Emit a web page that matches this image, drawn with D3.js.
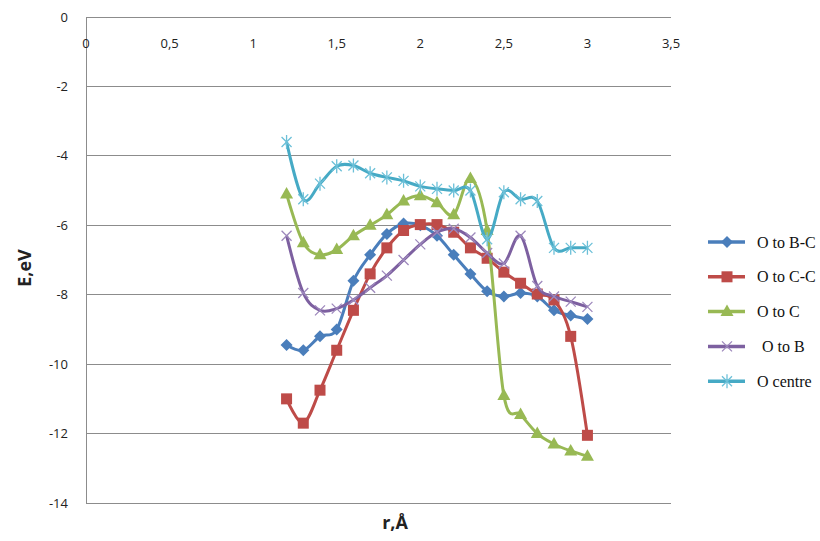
<!DOCTYPE html>
<html>
<head>
<meta charset="utf-8">
<script src="https://cdn.jsdelivr.net/npm/d3@7"></script>
<style>
  body { margin: 0; background: #fff; }
  svg { display: block; }
</style>
</head>
<body>
<div id="chart"></div>
<script>
// distances r (Å) shared by every series
var rValues = [1.2, 1.3, 1.4, 1.5, 1.6, 1.7, 1.8, 1.9, 2.0, 2.1, 2.2, 2.3, 2.4, 2.5, 2.6, 2.7, 2.8, 2.9, 3.0];

// energies E (eV)
var oToBC   = [-9.45, -9.6, -9.2, -9.0, -7.6, -6.85, -6.25, -5.95, -6.0, -6.3, -6.85, -7.4, -7.9, -8.05, -7.95, -8.05, -8.45, -8.6, -8.7];
var oToCC   = [-11.0, -11.7, -10.75, -9.6, -8.45, -7.4, -6.65, -6.15, -5.98, -5.98, -6.2, -6.65, -6.95, -7.35, -7.67, -7.98, -8.15, -9.2, -12.05];
var oToC    = [-5.1, -6.5, -6.85, -6.7, -6.3, -6.0, -5.7, -5.3, -5.15, -5.35, -5.7, -4.65, -6.15, -10.9, -11.45, -12.0, -12.3, -12.5, -12.65];
var oToB    = [-6.3, -7.95, -8.45, -8.4, -8.15, -7.8, -7.45, -7.0, -6.55, -6.2, -6.1, -6.35, -6.8, -7.1, -6.3, -7.75, -8.05, -8.2, -8.35];
var oCentre = [-3.6, -5.25, -4.8, -4.3, -4.28, -4.5, -4.62, -4.72, -4.88, -4.95, -5.0, -5.0, -6.4, -5.05, -5.25, -5.3, -6.65, -6.65, -6.65];

var seriesNames = ["O to B-C", "O to C-C", "O to C", "O to B", "O centre"];
var xTicks = [0, 0.5, 1, 1.5, 2, 2.5, 3, 3.5];
var yTicks = [0, -2, -4, -6, -8, -10, -12, -14];

var series = [
  { name: seriesNames[0], values: oToBC,   color: "#4a7ebb", marker: "diamond" },
  { name: seriesNames[1], values: oToCC,   color: "#be4b48", marker: "square" },
  { name: seriesNames[2], values: oToC,    color: "#98b954", marker: "triangle" },
  { name: seriesNames[3], values: oToB,    color: "#7d60a0", marker: "cross", markColor: "#9d88bc" },
  { name: seriesNames[4], values: oCentre, color: "#46aac5", marker: "star", markColor: "#6cc0d8" }
];

var W = 820, H = 541;
var margin = { top: 17, right: 149, bottom: 38, left: 86 },
    width = W - margin.left - margin.right,
    height = H - margin.top - margin.bottom;

var svg = d3.select("#chart").append("svg")
    .attr("width", W)
    .attr("height", H);

var g = svg.append("g")
    .attr("transform", "translate(" + margin.left + "," + margin.top + ")");

var x = d3.scaleLinear().domain([0, 3.5]).range([0, width]);
var y = d3.scaleLinear().domain([-14, 0]).range([height, 0]);

var fmt = function (d) { return String(d).replace(".", ","); };

// horizontal grid lines
g.selectAll(".grid")
    .data(yTicks)
    .enter().append("line")
    .attr("x1", 0).attr("x2", width)
    .attr("y1", function (d) { return y(d); })
    .attr("y2", function (d) { return y(d); })
    .attr("stroke", "#8c8c8c")
    .attr("stroke-width", 1)
    .attr("shape-rendering", "crispEdges");

// vertical axis line
g.append("line")
    .attr("x1", 0).attr("x2", 0)
    .attr("y1", 0).attr("y2", height)
    .attr("stroke", "#8c8c8c")
    .attr("shape-rendering", "crispEdges");

// y tick labels
g.selectAll(".ylab")
    .data(yTicks)
    .enter().append("text")
    .attr("x", -18)
    .attr("y", function (d) { return y(d); })
    .attr("dy", "0.35em")
    .attr("text-anchor", "end")
    .style("font-family", "'Open Sans', sans-serif")
    .style("font-size", "13px")
    .style("fill", "#222")
    .text(function (d) { return d; });

// x tick labels (under the 0 line)
g.selectAll(".xlab")
    .data(xTicks)
    .enter().append("text")
    .attr("x", function (d) { return x(d); })
    .attr("y", y(0) + 31)
    .attr("text-anchor", "middle")
    .style("font-family", "'Open Sans', sans-serif")
    .style("font-size", "13px")
    .style("fill", "#222")
    .text(fmt);

// axis titles
svg.append("text")
    .attr("transform", "translate(31," + 268 + ") rotate(-90)")
    .attr("text-anchor", "middle")
    .style("font-family", "'Open Sans', sans-serif")
    .style("font-size", "18px")
    .style("font-weight", "bold")
    .style("fill", "#222")
    .text("E,eV");

svg.append("text")
    .attr("x", 395)
    .attr("y", 529)
    .attr("text-anchor", "middle")
    .style("font-family", "'Open Sans', sans-serif")
    .style("font-size", "18px")
    .style("font-weight", "bold")
    .style("fill", "#222")
    .text("r,Å");

// marker drawing
function drawMarker(sel, s) {
  var mc = s.markColor || s.color;
  if (s.marker === "diamond") {
    sel.append("path").attr("d", "M0,-6L6,0L0,6L-6,0Z").attr("fill", s.color);
  } else if (s.marker === "square") {
    sel.append("rect").attr("x", -5.5).attr("y", -5.5).attr("width", 11).attr("height", 11).attr("fill", s.color);
  } else if (s.marker === "triangle") {
    sel.append("path").attr("d", "M0,-7L6.5,4.5L-6.5,4.5Z").attr("fill", s.color);
  } else if (s.marker === "cross") {
    sel.append("path").attr("d", "M-5,-5L5,5M-5,5L5,-5")
        .attr("stroke", mc).attr("stroke-width", 1.3).attr("fill", "none");
  } else if (s.marker === "star") {
    sel.append("path").attr("d", "M-5,-5L5,5M-5,5L5,-5M0,-7L0,7")
        .attr("stroke", mc).attr("stroke-width", 1.3).attr("fill", "none");
  }
}

var line = d3.line()
    .x(function (d) { return x(d.r); })
    .y(function (d) { return y(d.e); })
    .curve(d3.curveCatmullRom.alpha(0));

series.forEach(function (s) {
  var pts = rValues.map(function (r, i) { return { r: r, e: s.values[i] }; });
  var sg = g.append("g");
  sg.append("path")
      .datum(pts)
      .attr("fill", "none")
      .attr("stroke", s.color)
      .attr("stroke-width", 3)
      .attr("stroke-linejoin", "round")
      .attr("d", line);
  sg.selectAll(".m")
      .data(pts)
      .enter().append("g")
      .attr("transform", function (d) { return "translate(" + x(d.r) + "," + y(d.e) + ")"; })
      .each(function () { drawMarker(d3.select(this), s); });
});

// legend
var legend = svg.append("g").attr("transform", "translate(708,242)");
series.forEach(function (s, i) {
  var lg = legend.append("g").attr("transform", "translate(0," + (i * 34.8) + ")");
  lg.append("line")
      .attr("x1", 0).attr("x2", 37)
      .attr("y1", 0).attr("y2", 0)
      .attr("stroke", s.color)
      .attr("stroke-width", 3.5);
  var mg = lg.append("g").attr("transform", "translate(19,0)");
  drawMarker(mg, s);
  lg.append("text")
      .attr("x", s.name === "O to B" ? 54 : 49)
      .attr("y", 0)
      .attr("dy", "0.35em")
      .style("font-family", "'Liberation Serif', serif")
      .style("font-size", "16px")
      .style("fill", "#111")
      .text(s.name);
});
</script>
</body>
</html>
